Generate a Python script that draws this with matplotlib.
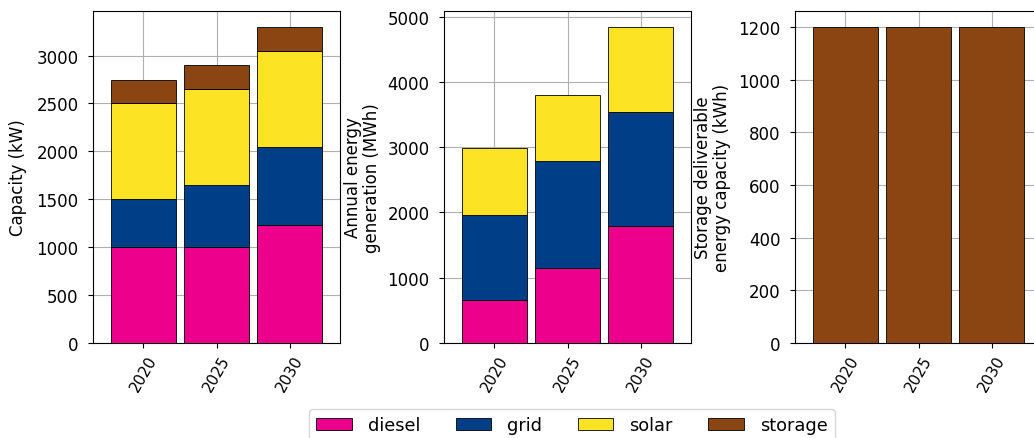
import matplotlib.pyplot as plt
import numpy as np

years = ['2020', '2025', '2030']
techs = ['diesel', 'grid', 'solar', 'storage']
colors = {'diesel': '#EC008C', 'grid': '#003F87', 'solar': '#FCE424', 'storage': '#8B4513'}

# installed capacity (kW)
cap_diesel = [1000, 1000, 1230]
cap_grid = [500, 650, 820]
cap_solar = [1000, 1000, 1000]
cap_storage = [250, 250, 250]

# annual generation (MWh)
gen_diesel = [660, 1150, 1795]
gen_grid = [1305, 1640, 1750]
gen_solar = [1025, 1015, 1300]

# storage deliverable energy (kWh)
sto_energy = [1200, 1200, 1200]

plt.rcParams['font.size'] = 12
fig = plt.figure(figsize=(10.34, 4.39), dpi=100)

W, H = 1034, 439
def box(x0, x1, y0=12, y1=344):
    return [x0 / W, 1 - y1 / H, (x1 - x0) / W, (y1 - y0) / H]

ax1 = fig.add_axes(box(93, 340))
ax2 = fig.add_axes(box(444, 691))
ax3 = fig.add_axes(box(795, 1042))

x = np.arange(len(years))
width = 0.9

def stack(ax, series, names):
    bottom = np.zeros(len(years))
    for vals, name in zip(series, names):
        ax.bar(x, vals, width, bottom=bottom, color=colors[name],
               edgecolor='black', linewidth=0.6, label=name, zorder=3)
        bottom += np.array(vals)

stack(ax1, [cap_diesel, cap_grid, cap_solar, cap_storage], techs)
stack(ax2, [gen_diesel, gen_grid, gen_solar], techs[:3])
stack(ax3, [sto_energy], ['storage'])

ax1.set_ylabel('Capacity (kW)', labelpad=7)
ax2.set_ylabel('Annual energy\ngeneration (MWh)', labelpad=4.5, linespacing=1.1)
ax3.set_ylabel('Storage deliverable\nenergy capacity (kWh)', labelpad=5, linespacing=1.1)

for ax in (ax1, ax2, ax3):
    ax.set_xticks(x)
    ax.set_xticklabels(years, rotation=60, fontsize=11)
    ax.set_xlim(-0.69, 2.69)
    ax.tick_params(axis='y', pad=7)
    ax.grid(True, color='#b0b0b0', zorder=0)
    ax.set_axisbelow(True)

handles = [plt.Rectangle((0, 0), 1, 1, facecolor=colors[t], edgecolor='black', linewidth=0.6)
           for t in techs]
fig.legend(handles, techs, ncol=4, loc='upper center', fontsize=12.8,
           bbox_to_anchor=(572 / W, 1 - 410 / H), borderaxespad=0,
           handletextpad=0.9, frameon=True)

fig.savefig('out.png', dpi=100)
